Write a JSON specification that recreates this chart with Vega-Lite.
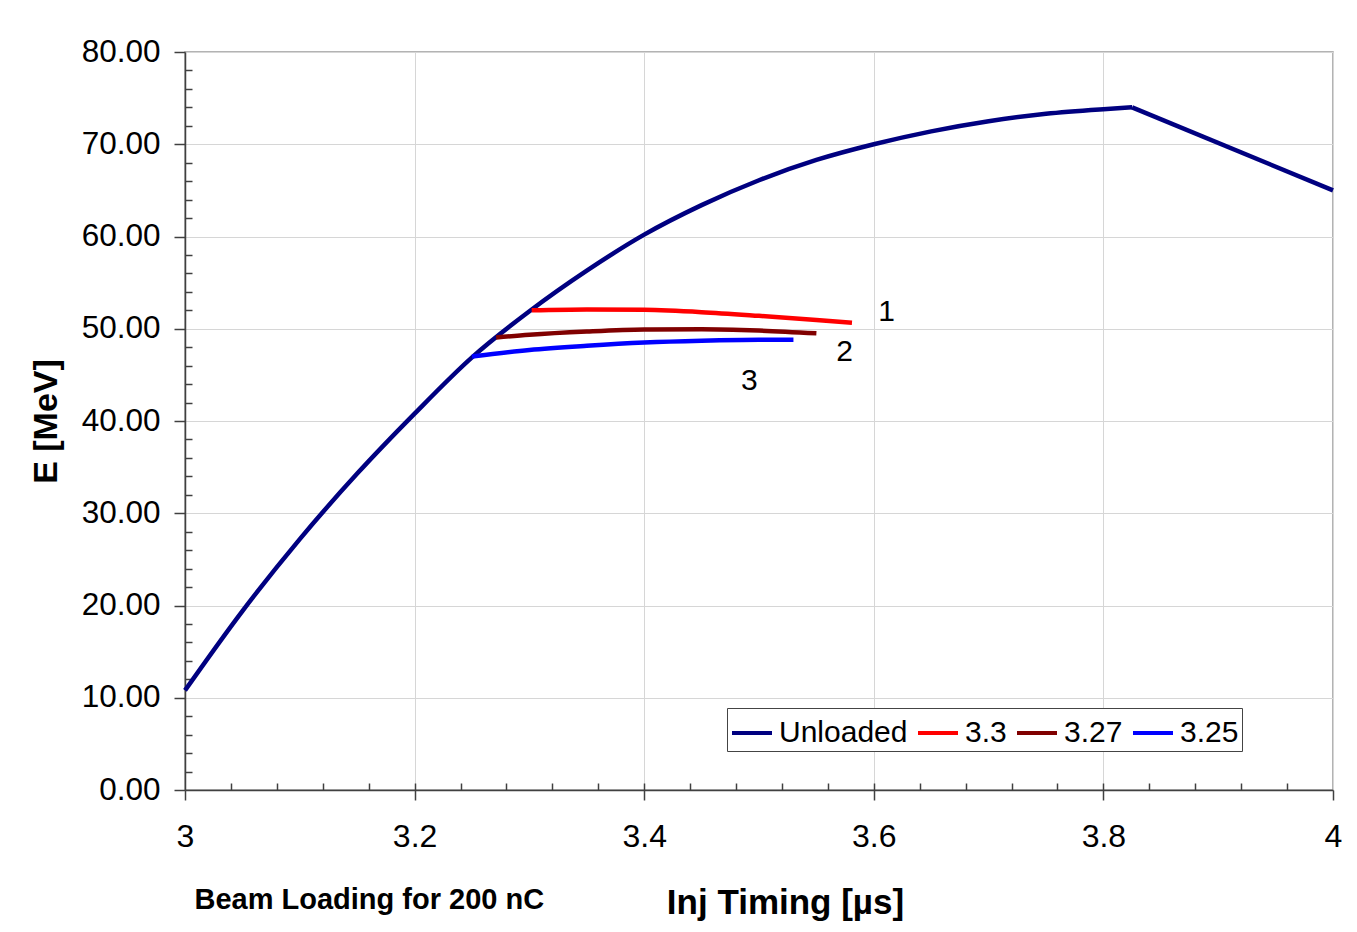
{
  "$schema": "https://vega.github.io/schema/vega-lite/v6.json",
  "width": 1148,
  "height": 738,
  "autosize": {"type": "none"},
  "padding": {"left": 185, "top": 52, "right": 24, "bottom": 142},
  "background": "white",
  "config": {
    "font": "Liberation Sans",
    "view": {"stroke": "#9a9a9a", "strokeWidth": 1.5},
    "axis": {"labelColor": "#000", "titleColor": "#000", "labelFont": "Liberation Sans", "titleFont": "Liberation Sans"}
  },
  "datasets": {
    "curves": [
      {"series": "Unloaded", "seg": "a", "t": 3.0, "E": 10.8},
      {"series": "Unloaded", "seg": "a", "t": 3.05, "E": 19.4},
      {"series": "Unloaded", "seg": "a", "t": 3.1, "E": 27.2},
      {"series": "Unloaded", "seg": "a", "t": 3.15, "E": 34.3},
      {"series": "Unloaded", "seg": "a", "t": 3.2, "E": 40.8},
      {"series": "Unloaded", "seg": "a", "t": 3.25, "E": 46.9},
      {"series": "Unloaded", "seg": "a", "t": 3.3, "E": 51.9},
      {"series": "Unloaded", "seg": "a", "t": 3.35, "E": 56.3},
      {"series": "Unloaded", "seg": "a", "t": 3.4, "E": 60.2},
      {"series": "Unloaded", "seg": "a", "t": 3.45, "E": 63.4},
      {"series": "Unloaded", "seg": "a", "t": 3.5, "E": 66.1},
      {"series": "Unloaded", "seg": "a", "t": 3.55, "E": 68.3},
      {"series": "Unloaded", "seg": "a", "t": 3.6, "E": 70.0},
      {"series": "Unloaded", "seg": "a", "t": 3.65, "E": 71.4},
      {"series": "Unloaded", "seg": "a", "t": 3.7, "E": 72.5},
      {"series": "Unloaded", "seg": "a", "t": 3.75, "E": 73.3},
      {"series": "Unloaded", "seg": "a", "t": 3.8, "E": 73.8},
      {"series": "Unloaded", "seg": "a", "t": 3.825, "E": 74.0},
      {"series": "Unloaded", "seg": "b", "t": 3.825, "E": 74.0},
      {"series": "Unloaded", "seg": "b", "t": 4.0, "E": 65.0},
      {"series": "3.3", "seg": "a", "t": 3.302, "E": 52.0},
      {"series": "3.3", "seg": "a", "t": 3.35, "E": 52.1},
      {"series": "3.3", "seg": "a", "t": 3.4, "E": 52.05},
      {"series": "3.3", "seg": "a", "t": 3.45, "E": 51.8},
      {"series": "3.3", "seg": "a", "t": 3.5, "E": 51.4},
      {"series": "3.3", "seg": "a", "t": 3.55, "E": 50.95},
      {"series": "3.3", "seg": "a", "t": 3.581, "E": 50.65},
      {"series": "3.27", "seg": "a", "t": 3.271, "E": 49.05},
      {"series": "3.27", "seg": "a", "t": 3.3, "E": 49.35},
      {"series": "3.27", "seg": "a", "t": 3.35, "E": 49.7},
      {"series": "3.27", "seg": "a", "t": 3.4, "E": 49.92},
      {"series": "3.27", "seg": "a", "t": 3.45, "E": 49.95},
      {"series": "3.27", "seg": "a", "t": 3.5, "E": 49.8},
      {"series": "3.27", "seg": "a", "t": 3.55, "E": 49.5},
      {"series": "3.25", "seg": "a", "t": 3.25, "E": 47.0},
      {"series": "3.25", "seg": "a", "t": 3.3, "E": 47.7},
      {"series": "3.25", "seg": "a", "t": 3.35, "E": 48.15},
      {"series": "3.25", "seg": "a", "t": 3.4, "E": 48.5},
      {"series": "3.25", "seg": "a", "t": 3.45, "E": 48.7},
      {"series": "3.25", "seg": "a", "t": 3.5, "E": 48.8},
      {"series": "3.25", "seg": "a", "t": 3.53, "E": 48.8}
    ],
    "labels": [
      {"label": "1", "t": 3.6112, "E": 51.85},
      {"label": "2", "t": 3.5746, "E": 47.51},
      {"label": "3", "t": 3.4916, "E": 44.37}
    ]
  },
  "resolve": {"scale": {"x": "independent", "y": "independent"}, "axis": {"x": "independent", "y": "independent"}},
  "layer": [
    {
      "layer": [
        {
          "data": {"name": "curves"},
          "mark": {"type": "line", "strokeWidth": 4.5, "interpolate": "monotone"},
          "encoding": {
            "x": {
              "field": "t", "type": "quantitative",
              "scale": {"domain": [3, 4], "nice": false, "zero": false},
              "axis": {
                "orient": "bottom",
                "values": [3, 3.2, 3.4, 3.6, 3.8, 4],
                "format": ".1~f",
                "labelFlush": false, "labelOverlap": false,
                "grid": true, "gridColor": "#d6d6d6", "gridWidth": 1,
                "tickSize": 10, "tickColor": "#404040", "tickWidth": 1.5,
                "domainColor": "#404040", "domainWidth": 1.5,
                "labelFontSize": 32, "labelPadding": 21,
                "title": "Inj Timing [µs]",
                "titleFontSize": 35, "titleFontWeight": "bold",
                "titleX": 600, "titleY": 123, "titleAlign": "center", "titleBaseline": "alphabetic"
              }
            },
            "y": {
              "field": "E", "type": "quantitative",
              "scale": {"domain": [0, 80], "nice": false, "zero": false},
              "axis": {
                "orient": "left",
                "values": [0, 10, 20, 30, 40, 50, 60, 70, 80],
                "format": ".2f",
                "labelOverlap": false,
                "grid": true, "gridColor": "#d6d6d6", "gridWidth": 1,
                "tickSize": 11, "tickColor": "#404040", "tickWidth": 1.5,
                "domainColor": "#404040", "domainWidth": 1.5,
                "labelFontSize": 31.5, "labelPadding": 14,
                "title": "E [MeV]",
                "titleFontSize": 34, "titleFontWeight": "bold",
                "titleAngle": -90,
                "titleX": -129, "titleY": 369, "titleAlign": "center", "titleBaseline": "alphabetic"
              }
            },
            "color": {
              "field": "series", "type": "nominal",
              "scale": {"domain": ["Unloaded", "3.3", "3.27", "3.25"], "range": ["#000080", "#ff0000", "#800000", "#0000ff"]},
              "legend": {
                "orient": "none", "legendX": 542, "legendY": 656,
                "direction": "horizontal", "title": null,
                "symbolType": "M-1,0H1", "symbolSize": 1600, "symbolStrokeWidth": 4,
                "labelFontSize": 30, "labelFont": "Liberation Sans", "labelColor": "#000", "labelOffset": 5,
                "columnPadding": 2, "padding": 3,
                "strokeColor": "#444", "fillColor": "#fff"
              }
            },
            "detail": {"field": "seg"}
          }
        },
        {
          "data": {"name": "labels"},
          "mark": {"type": "text", "fontSize": 30, "align": "center", "baseline": "middle", "color": "#000", "font": "Liberation Sans"},
          "encoding": {
            "x": {"field": "t", "type": "quantitative"},
            "y": {"field": "E", "type": "quantitative"},
            "text": {"field": "label"}
          }
        }
      ]
    },
    {
      "data": {"name": "curves"},
      "mark": {"type": "line", "opacity": 0},
      "encoding": {
        "x": {
          "field": "t", "type": "quantitative",
          "scale": {"domain": [3, 4], "nice": false, "zero": false},
          "axis": {
            "orient": "bottom",
            "values": [3.04, 3.08, 3.12, 3.16, 3.2, 3.24, 3.28, 3.32, 3.36, 3.4, 3.44, 3.48, 3.52, 3.56, 3.6, 3.64, 3.68, 3.72, 3.76, 3.8, 3.84, 3.88, 3.92, 3.96],
            "labels": false, "domain": false, "grid": false,
            "tickSize": -7, "tickColor": "#404040", "tickWidth": 1.5,
            "title": "Beam Loading for 200 nC",
            "titleFontSize": 29, "titleFontWeight": "bold",
            "titleX": 9, "titleY": 118, "titleAlign": "left", "titleBaseline": "alphabetic"
          }
        },
        "y": {
          "field": "E", "type": "quantitative",
          "scale": {"domain": [0, 80], "nice": false, "zero": false},
          "axis": {
            "orient": "left",
            "values": [2, 4, 6, 8, 12, 14, 16, 18, 22, 24, 26, 28, 32, 34, 36, 38, 42, 44, 46, 48, 52, 54, 56, 58, 62, 64, 66, 68, 72, 74, 76, 78],
            "labels": false, "domain": false, "grid": false,
            "tickSize": -7, "tickColor": "#404040", "tickWidth": 1.5,
            "title": null
          }
        },
        "detail": {"field": "series"}
      }
    }
  ]
}
